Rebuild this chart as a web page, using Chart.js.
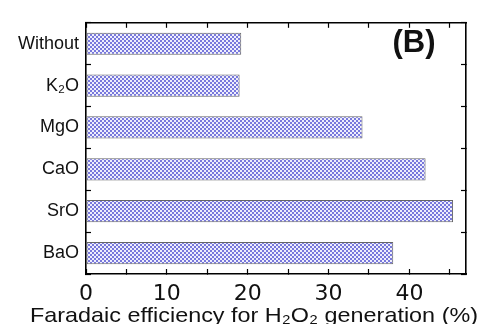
<!DOCTYPE html>
<html>
<head>
<meta charset="utf-8">
<script src="https://cdn.jsdelivr.net/npm/chart.js@4"></script>
<style>
  html, body { margin: 0; padding: 0; background: #fff; }
  #wrap { width: 484px; height: 324px; }
</style>
</head>
<body>
<div id="wrap"><canvas id="chart" width="484" height="324"></canvas></div>
<script>
// categories, top to bottom
const additives = ['Without', 'K₂O', 'MgO', 'CaO', 'SrO', 'BaO'];
// Faradaic efficiency for H2O2 generation (%)
const efficiency = [19.2, 19.0, 34.2, 42.0, 45.4, 38.0];
const xTickValues = [0, 10, 20, 30, 40];
const xTitle = 'Faradaic efficiency for H₂O₂ generation (%)';
const panelLabel = '(B)';

(function(){
    function checker(){
        const c = document.createElement('canvas');
        c.width = 4; c.height = 4;
        const g = c.getContext('2d');
        g.fillStyle = '#eeeefc';
        g.fillRect(0, 0, 4, 4);
        g.fillStyle = '#7878dc';
        g.fillRect(0, 0, 2, 2);
        g.fillRect(2, 2, 2, 2);
        return g.createPattern(c, 'repeat');
    }

    const FONT = '"Liberation Sans", Arial, sans-serif';
    const WIDE = '"DejaVu Sans", sans-serif';
    const frame = { display: true, color: '#000', width: 1.6 };
    const tickGrid = { drawOnChartArea: false, drawTicks: true, tickLength: -5, tickColor: '#000', tickWidth: 1.2 };

    // panel label and the wide axis title (the original title runs past the plot edges)
    const extraText = {
        id: 'extraText',
        afterDraw(chart){
            const ctx = chart.ctx;
            ctx.save();
            ctx.fillStyle = '#111';
            ctx.textAlign = 'center';
            ctx.textBaseline = 'middle';
            ctx.font = 'bold 31px ' + FONT;
            ctx.fillText(panelLabel, 414, 43);
            ctx.textBaseline = 'alphabetic';
            ctx.font = '21px ' + FONT;
            const sx = 448 / ctx.measureText(xTitle).width;
            ctx.scale(sx, 1);
            ctx.fillText(xTitle, 254 / sx, 322);
            ctx.restore();
        }
    };

    const ctx = document.getElementById('chart').getContext('2d');
    new Chart(ctx, {
        type: 'bar',
        data: {
            labels: additives,
            datasets: [{
                data: efficiency,
                backgroundColor: checker(),
                borderColor: '#666',
                borderWidth: 1,
                borderSkipped: false,
                categoryPercentage: 1,
                barPercentage: 0.53
            }]
        },
        options: {
            indexAxis: 'y',
            responsive: false,
            animation: false,
            layout: { padding: { left: 0, right: 18, top: 9, bottom: 0 } },
            plugins: { legend: { display: false }, tooltip: { enabled: false } },
            scales: {
                x: {
                    type: 'linear', position: 'bottom', min: 0, max: 47,
                    border: frame,
                    grid: tickGrid,
                    afterBuildTicks: s => { s.ticks = []; for (let v = 0; v <= 45; v += 5) s.ticks.push({ value: v }); },
                    ticks: {
                        padding: 12, color: '#111', font: { family: WIDE, size: 22 },
                        callback: v => xTickValues.includes(v) ? String(v) : ''
                    },
                    afterFit: s => { s.height = 50; }
                },
                x2: {
                    type: 'linear', position: 'top', min: 0, max: 47,
                    border: frame,
                    grid: tickGrid,
                    afterBuildTicks: s => { s.ticks = []; for (let v = 0; v <= 45; v += 5) s.ticks.push({ value: v }); },
                    ticks: { display: false },
                    afterFit: s => { s.height = 0; }
                },
                y: {
                    type: 'category', position: 'left', offset: true,
                    border: frame,
                    grid: Object.assign({ offset: true }, tickGrid),
                    ticks: { padding: 12, color: '#111', font: { family: FONT, size: 18 } },
                    afterFit: s => { s.width = 86; }
                },
                y2: {
                    type: 'category', position: 'right', offset: true, labels: additives,
                    border: frame,
                    grid: Object.assign({ offset: true }, tickGrid),
                    ticks: { display: false },
                    afterFit: s => { s.width = 0; }
                }
            }
        },
        plugins: [extraText]
    });
})();
</script>
</body>
</html>
